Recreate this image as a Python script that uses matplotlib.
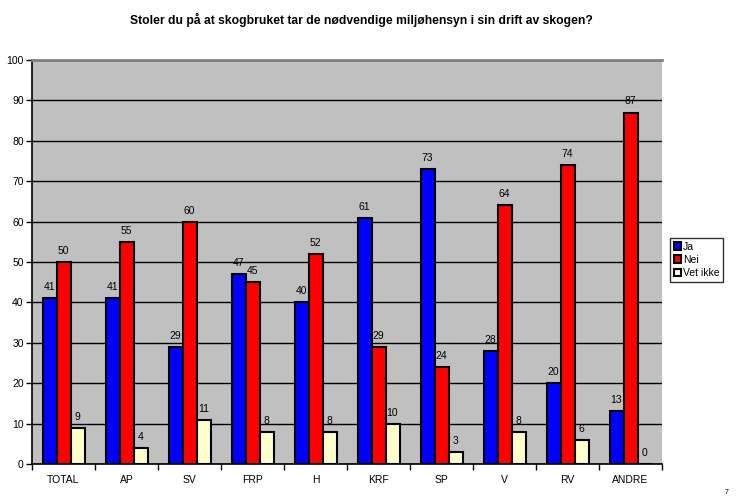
import matplotlib
matplotlib.use("Agg")
import matplotlib.pyplot as plt
import numpy as np

plt.rcParams['font.family'] = ['Liberation Sans', 'DejaVu Sans']

categories = ['TOTAL', 'AP', 'SV', 'FRP', 'H', 'KRF', 'SP', 'V', 'RV', 'ANDRE']
ja = [41, 41, 29, 47, 40, 61, 73, 28, 20, 13]
nei = [50, 55, 60, 45, 52, 29, 24, 64, 74, 87]
vet_ikke = [9, 4, 11, 8, 8, 10, 3, 8, 6, 0]
series_names = ['Ja', 'Nei', 'Vet ikke']
colors = ['#0000FF', '#FF0000', '#FFFFCC']

fig = plt.figure(figsize=(7.44, 4.97), dpi=100)
ax = fig.add_axes([32 / 744, 1 - 464 / 497, 630 / 744, 404 / 497])
ax.set_facecolor('#C0C0C0')

x = np.arange(len(categories))
w = 1 / 4.5
for i, (vals, name, c) in enumerate(zip([ja, nei, vet_ikke], series_names, colors)):
    pos = x + (i - 1) * w
    bars = ax.bar(pos, vals, width=w, color=c, edgecolor='black', linewidth=1.5,
                  label=name, zorder=3)
    for b, v in zip(bars, vals):
        ax.text(b.get_x() + b.get_width() / 2, v + 1.5, str(v), ha='center',
                va='bottom', fontsize=7.5)

ax.set_xlim(-0.5, len(categories) - 0.5)
ax.set_ylim(0, 100)
ax.set_yticks(range(0, 101, 10))
ax.set_xticks(x)
ax.set_xticklabels(categories, fontsize=7.5)
ax.set_xticks(np.arange(-0.5, len(categories), 1), minor=True)
ax.tick_params(axis='x', which='major', length=0, pad=8)
ax.tick_params(axis='x', which='minor', length=4, width=1, direction='out')
ax.tick_params(axis='y', labelsize=7.5, length=4, width=1, direction='out', pad=2)
ax.yaxis.grid(True, color='black', linewidth=1, zorder=0)
ax.set_axisbelow(True)

ax.spines['left'].set_linewidth(1.2)
ax.spines['bottom'].set_linewidth(1.2)
ax.spines['top'].set_color('#808080')
ax.spines['top'].set_linewidth(2)
ax.spines['right'].set_visible(False)

fig.text(361 / 744, 1 - 20 / 497,
         'Stoler du på at skogbruket tar de nødvendige miljøhensyn i sin drift av skogen?',
         ha='center', va='center', fontsize=8.7, fontweight='bold')

leg = fig.legend(loc='upper left', bbox_to_anchor=(670 / 744, 1 - 238 / 497),
                 fontsize=7.5, frameon=True, fancybox=False, edgecolor='black',
                 handlelength=0.7, handleheight=0.7, handletextpad=0.2,
                 borderpad=0.35, labelspacing=0.3, borderaxespad=0)
leg.get_frame().set_linewidth(1)

fig.text(727 / 744, 1 - 493 / 497, '7', fontsize=5, ha='center', va='center')

fig.savefig('out.png', dpi=100)
